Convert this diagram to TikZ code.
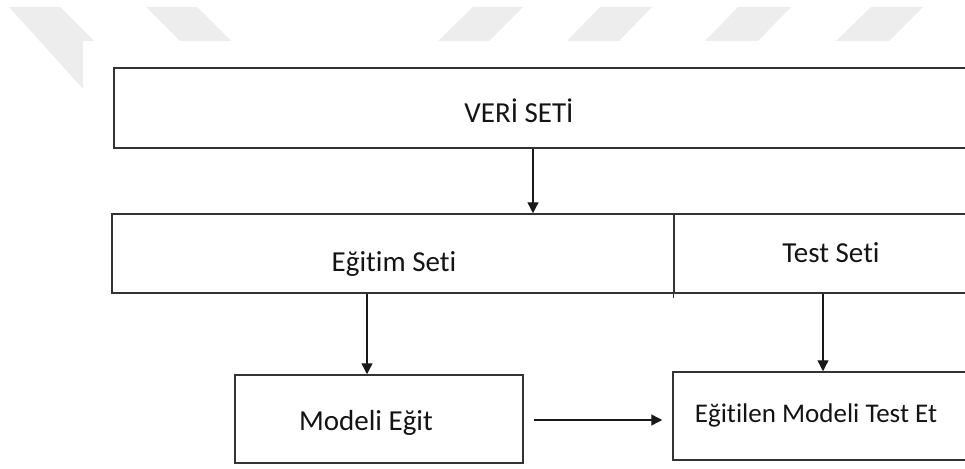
\documentclass[tikz,border=0pt]{standalone}
\usepackage{fontspec}
\setmainfont[Ligatures=NoCommon,RawFeature=-liga]{Carlito}
\usetikzlibrary{arrows.meta}
\begin{document}
\begin{tikzpicture}[x=1pt,y=-1pt,
  box/.style={draw=black!80, line width=1.5pt, inner sep=0pt, fill=white},
  lbl/.style={anchor=base, inner sep=0pt, text=black!92, font=\fontsize{29}{31}\selectfont},
  arr/.style={draw=black!90, line width=1.3pt, -{Triangle[length=11pt,width=11pt]}},
  wm/.style={fill=black!7, draw=none}]
\useasboundingbox (0,0) rectangle (965,468);
\clip (0,0) rectangle (965,468);
% watermark
\fill[wm] (9,7) -- (60,7) -- (143,90) -- (84,90) -- cycle;
\fill[wm] (146,7) -- (197,7) -- (280,90) -- (229,90) -- cycle;
\fill[wm] (473,7) -- (523,7) -- (489,41) -- (438,41) -- cycle;
\fill[wm] (600,7) -- (652,7) -- (619,41) -- (567,41) -- cycle;
\fill[wm] (738,7) -- (791,7) -- (758,41) -- (705,41) -- cycle;
\fill[wm] (871,7) -- (923,7) -- (889,41) -- (836,41) -- cycle;
\fill[white] (83,41) rectangle (965,468);
% boxes
\node[box, minimum width=896pt, minimum height=80pt] (veri) at (562,108) {};
\node[box, minimum width=562pt, minimum height=79pt] (egitim) at (393,253.5) {};
\node[box, minimum width=336pt, minimum height=79pt] (test) at (842,253.5) {};
\node[box, minimum width=288pt, minimum height=88pt] (modeli) at (379,419) {};
\node[box, minimum width=337pt, minimum height=88pt] (testet) at (841.5,416) {};
\draw[black!80, line width=1.5pt] (test.north west) -- ([yshift=-4pt]test.south west);
% labels
\node[lbl] (tveri) at (519,122) {VERİ SETİ};
\node[lbl] (tegitim) at (394,271) {Eğitim Seti};
\node[lbl] (ttest) at (831,262) {Test Seti};
\node[lbl] (tmodeli) at (366,430) {Modeli Eğit};
\node[lbl, font=\fontsize{27}{29}\selectfont] (ttestet) at (816,422) {Eğitilen Modeli Test Et};
% connectors
\coordinate (c1) at (533,0);
\coordinate (c2) at (367,0);
\coordinate (c3) at (823,0);
\coordinate (c4) at (0,420);
\draw[arr] (c1 |- veri.south) -- (c1 |- egitim.north);
\draw[arr] (c2 |- egitim.south) -- (c2 |- modeli.north);
\draw[arr] (c3 |- test.south) -- (c3 |- testet.north);
\draw[arr, shorten <=10pt, shorten >=10pt] (modeli.east |- c4) -- (testet.west |- c4);
\end{tikzpicture}
\end{document}
